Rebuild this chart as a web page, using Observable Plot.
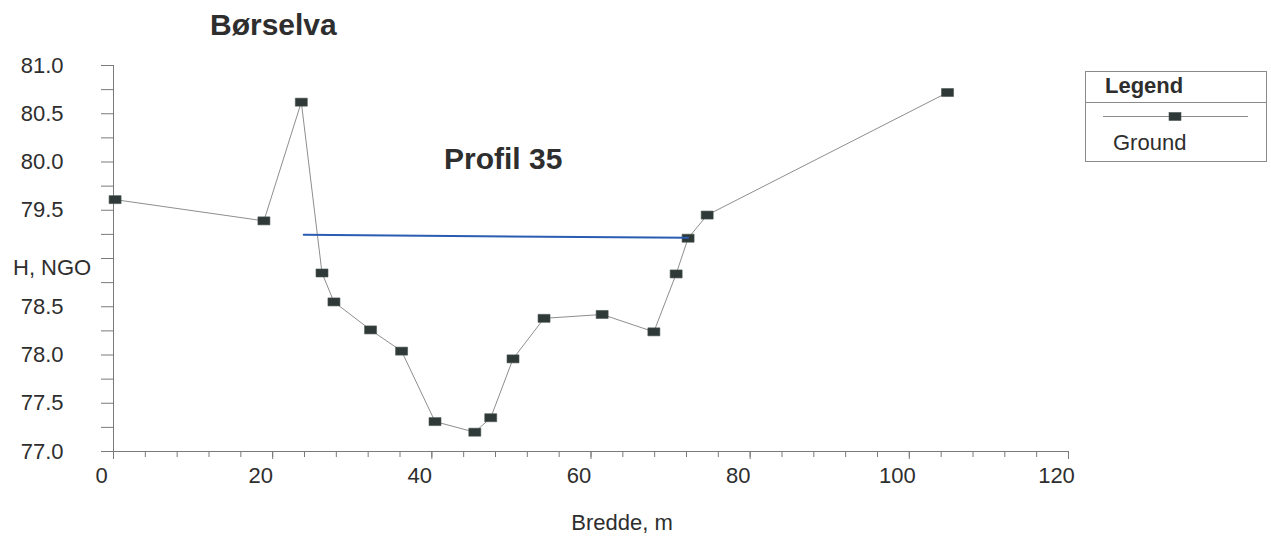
<!DOCTYPE html>
<html>
<head>
<meta charset="utf-8">
<script src="https://cdn.jsdelivr.net/npm/d3@7"></script>
<script src="https://cdn.jsdelivr.net/npm/@observablehq/plot@0.6"></script>
<style>
  body { margin: 0; background: #fff; }
  #chart { position: relative; width: 1271px; height: 537px; }
</style>
</head>
<body>
<div id="chart"></div>
<script>
// ---- Data ----
const bredde = [0.2, 18.9, 23.6, 26.2, 27.7, 32.3, 36.2, 40.4, 45.4, 47.4, 50.2, 54.1, 61.4, 67.9, 70.7, 72.2, 74.6, 104.8];
const hoyde  = [79.61, 79.39, 80.62, 78.85, 78.55, 78.26, 78.04, 77.31, 77.20, 77.35, 77.96, 78.38, 78.42, 78.24, 78.84, 79.21, 79.45, 80.72];
const waterX = [23.9, 72.2];
const waterY = [79.245, 79.215];
const xMajorTicks = [0, 20, 40, 60, 80, 100, 120];
const xMinorTicks = d3.range(0, 121, 4);
const yTicks = d3.range(77, 81.001, 0.25);
const yLabelled = [77, 77.5, 78, 78.5, 79.5, 80, 80.5, 81];
const titleText = "Børselva";
const profileText = "Profil 35";
const yTitle = "H, NGO";
const xTitle = "Bredde, m";
const legendTitle = "Legend";
const seriesName = "Ground";

const ground = bredde.map((x, i) => ({x, y: hoyde[i]}));
const water = waterX.map((x, i) => ({x, y: waterY[i]}));

const FONT = "'Liberation Sans', Arial, Helvetica, sans-serif";
const AXIS = "#7a7a7a";
const TEXT = "#2e2e2e";
const MARK = "#2f3a38";

const rectSymbol = { draw(ctx) { ctx.rect(-6, -4, 12, 8); } };

const plot = Plot.plot({
  width: 1271,
  height: 537,
  marginTop: 65,
  marginBottom: 86,
  marginLeft: 113,
  marginRight: 203,
  style: { fontFamily: FONT, fontSize: "22px", color: TEXT, background: "#fff", overflow: "visible" },
  x: { domain: [0, 120] },
  y: { domain: [77, 81] },
  marks: [
    Plot.ruleX([0], { y1: 77, y2: 81, stroke: AXIS }),
    Plot.ruleY([77], { x1: 0, x2: 120, stroke: AXIS }),
    Plot.axisY({
      ticks: yTicks,
      tickFormat: d => yLabelled.includes(d) ? d.toFixed(1) : "",
      tickSize: 12, tickPadding: 38, stroke: AXIS, fill: TEXT, label: null
    }),
    Plot.axisX({ ticks: xMinorTicks, tickFormat: () => "", tickSize: 6, stroke: AXIS, label: null }),
    Plot.axisX({ ticks: xMajorTicks, tickFormat: () => "", tickSize: 8, stroke: AXIS, label: null }),
    Plot.axisX({ ticks: xMajorTicks, tickFormat: d => String(d), tickSize: 0, tickPadding: 16, dx: -12, fill: TEXT, label: null }),
    Plot.line(ground, { x: "x", y: "y", stroke: "#8e8e8e", strokeWidth: 1 }),
    Plot.dot(ground, { x: "x", y: "y", symbol: rectSymbol, fill: MARK, stroke: "#4a5552", strokeWidth: 0.6 }),
    Plot.line(water, { x: "x", y: "y", stroke: "#2a5cb2", strokeWidth: 2 })
  ]
});

document.getElementById("chart").appendChild(plot);

const svg = d3.select(plot);
const addText = (sel, txt, x, y, size, weight, anchor) =>
  sel.append("text").text(txt)
    .attr("x", x).attr("y", y)
    .attr("font-family", FONT).attr("font-size", size)
    .attr("font-weight", weight || "normal")
    .attr("text-anchor", anchor || "start")
    .attr("fill", TEXT);

addText(svg, titleText, 210, 35, 30, "bold");
addText(svg, profileText, 444, 169, 30, "bold");
addText(svg, yTitle, 13, 275, 22);
addText(svg, xTitle, 622, 530, 22, "normal", "middle");

// Legend
const lg = svg.append("g");
lg.append("rect").attr("x", 1085.5).attr("y", 71.5).attr("width", 181).attr("height", 90)
  .attr("fill", "#fff").attr("stroke", "#8a8a8a");
lg.append("line").attr("x1", 1085.5).attr("x2", 1266.5).attr("y1", 102.5).attr("y2", 102.5)
  .attr("stroke", "#8a8a8a");
addText(lg, legendTitle, 1105, 93, 22, "bold");
lg.append("line").attr("x1", 1103).attr("x2", 1248).attr("y1", 116.5).attr("y2", 116.5)
  .attr("stroke", "#8e8e8e");
lg.append("rect").attr("x", 1169).attr("y", 112.5).attr("width", 12).attr("height", 8)
  .attr("fill", MARK).attr("stroke", "#4a5552").attr("stroke-width", 0.6);
addText(lg, seriesName, 1113, 150, 22);
</script>
</body>
</html>
